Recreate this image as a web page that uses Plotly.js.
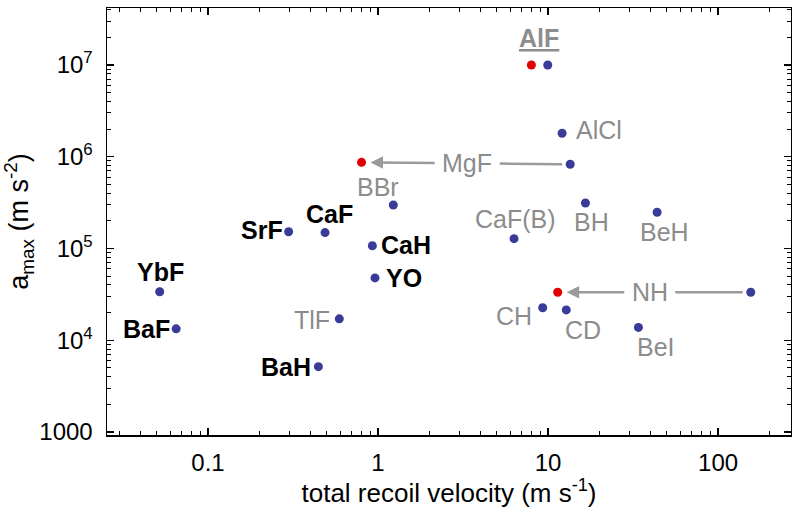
<!DOCTYPE html>
<html>
<head>
<meta charset="utf-8">
<script src="https://cdn.plot.ly/plotly-3.0.1.min.js"></script>
<style>html,body{margin:0;padding:0;background:#fff;}#chart{width:792px;height:508px;}</style>
</head>
<body>
<div id="chart"></div>
<script>
// ---- data ----
var molecules = ['YbF','BaF','BaH','TlF','YO','SrF','CaF','CaH','BBr','MgF','AlCl','AlF','CaF(B)','BH','BeH','NH','CH','CD','BeI'];
var recoilVelocity = [0.052,0.065,0.446,0.592,0.96,0.298,0.488,0.926,1.23,13.5,12.1,9.96,6.31,16.6,43.8,155.7,9.3,12.8,34.0];
var aMax = [33800,13300,5150,17100,47800,152000,149000,107000,298000,828000,1.8e6,1.0e7,128000,313000,248000,33300,22600,21400,13800];

var improvedMolecules = ['AlF','MgF','NH'];
var improvedVelocity = [7.98,0.80,11.4];
var improvedAMax = [1.0e7,8.69e5,3.33e4];

var xTickVals = [0.1,1,10,100];
var xTickText = ['0.1','1','10','100'];
var yTickVals = [1e3,1e4,1e5,1e6,1e7];
var yTickText = ['1000','10<sup>4</sup>','10<sup>5</sup>','10<sup>6</sup>','10<sup>7</sup>'];

// ---- label styling (pixel offsets from each point) ----
var labelStyle = {
  'YbF':   {dx:1,   dy:20,  k:'bold'},
  'BaF':   {dx:-30, dy:0,   k:'bold'},
  'BaH':   {dx:-32, dy:0,   k:'bold'},
  'TlF':   {dx:-27, dy:-1,  k:'gray'},
  'YO':    {dx:29,  dy:0,   k:'bold'},
  'SrF':   {dx:-27, dy:2,   k:'bold'},
  'CaF':   {dx:4,   dy:19,  k:'bold'},
  'CaH':   {dx:34,  dy:1,   k:'bold'},
  'BBr':   {dx:-15, dy:18,  k:'gray'},
  'AlCl':  {dx:37,  dy:3,   k:'gray'},
  'AlF':   {dx:-9,  dy:27,  k:'alf'},
  'CaF(B)':{dx:1,   dy:20,  k:'gray'},
  'BH':    {dx:6,   dy:-19, k:'gray'},
  'BeH':   {dx:7,   dy:-20, k:'gray'},
  'CH':    {dx:-29, dy:-8,  k:'gray'},
  'CD':    {dx:17,  dy:-20, k:'gray'},
  'BeI':   {dx:18,  dy:-20, k:'gray'}
};
// labels sitting between a pair of points, joined by an arrow/line
var pairStyle = {
  'MgF': {dx:-103, dy:1},
  'NH':  {dx:-101, dy:0}
};

var FONT = 'Arial, "Liberation Sans", Helvetica, sans-serif';
var GRAY = '#8c8c8c';
var LINEGRAY = '#9a9a9a';
var LABEL_SIZE = 25;

function minorVals(lo, hi) {
  var out = [];
  for (var e = lo; e <= hi; e++) {
    for (var m = 2; m <= 9; m++) out.push(m * Math.pow(10, e));
  }
  return out;
}

var annotations = [];
molecules.forEach(function(name, i) {
  var s = labelStyle[name];
  if (!s) return;
  var font = {family: FONT, size: LABEL_SIZE, color: GRAY};
  if (s.k === 'bold') { font.color = '#000'; font.weight = 'bold'; }
  if (s.k === 'alf') { font.weight = 'bold'; font.lineposition = 'under'; }
  annotations.push({
    x: Math.log10(recoilVelocity[i]), y: Math.log10(aMax[i]),
    xref: 'x', yref: 'y', text: name, showarrow: false,
    xshift: s.dx, yshift: s.dy, font: font,
    xanchor: 'center', yanchor: 'middle'
  });
});

var pairInfo = [];
Object.keys(pairStyle).forEach(function(name) {
  var s = pairStyle[name];
  var bi = molecules.indexOf(name);
  var ri = improvedMolecules.indexOf(name);
  var bx = Math.log10(recoilVelocity[bi]), by = Math.log10(aMax[bi]);
  var rx = Math.log10(improvedVelocity[ri]), ry = Math.log10(improvedAMax[ri]);
  // label + plain line to the original (blue) point
  annotations.push({
    x: bx, y: by, xref: 'x', yref: 'y', axref: 'pixel', ayref: 'pixel',
    ax: s.dx, ay: -s.dy, text: name, showarrow: true, arrowhead: 0,
    arrowwidth: 2.5, arrowcolor: LINEGRAY, standoff: 8, borderpad: 7,
    font: {family: FONT, size: LABEL_SIZE, color: GRAY}
  });
  // transparent copy of the label carrying the arrow to the improved (red) point
  pairInfo.push({idx: annotations.length, bx: bx, by: by, rx: rx, ry: ry, s: s});
  annotations.push({
    x: rx, y: ry, xref: 'x', yref: 'y', axref: 'pixel', ayref: 'pixel',
    ax: 60, ay: 0, text: name, showarrow: true, arrowhead: 2, arrowsize: 1,
    arrowwidth: 2.5, arrowcolor: LINEGRAY, standoff: 9, borderpad: 7,
    font: {family: FONT, size: LABEL_SIZE, color: 'rgba(0,0,0,0)'}
  });
});

var traces = [
  {
    x: recoilVelocity, y: aMax, mode: 'markers', type: 'scatter',
    marker: {color: '#3a3a98', size: 9}, hoverinfo: 'skip', cliponaxis: false
  },
  {
    x: improvedVelocity, y: improvedAMax, mode: 'markers', type: 'scatter',
    marker: {color: '#e00000', size: 9}, hoverinfo: 'skip', cliponaxis: false
  }
];

var axisCommon = {
  type: 'log', showgrid: false, zeroline: false,
  showline: true, linecolor: '#000', linewidth: 1.5, mirror: 'allticks',
  ticks: 'inside', ticklen: 7, tickwidth: 1.2, tickcolor: '#000',
  tickmode: 'array', tickfont: {family: FONT, size: 24, color: '#000'}
};

var layout = {
  width: 792, height: 508,
  margin: {l: 107, r: 1, t: 8, b: 73, pad: 0},
  paper_bgcolor: '#fff', plot_bgcolor: '#fff',
  showlegend: false,
  xaxis: Object.assign({}, axisCommon, {
    range: [-1.594, 2.429], tickvals: xTickVals, ticktext: xTickText,
    minor: {tickmode: 'array', tickvals: minorVals(-2, 2), ticks: 'inside', ticklen: 4, tickwidth: 1, tickcolor: '#000'},
    ticklabelstandoff: 6,
    title: {text: 'total recoil velocity (m s<sup>-1</sup>)', font: {family: FONT, size: 26, color: '#000'}, standoff: 6}
  }),
  yaxis: Object.assign({}, axisCommon, {
    range: [2.967, 7.621], tickvals: yTickVals, ticktext: yTickText,
    minor: {tickmode: 'array', tickvals: minorVals(3, 7), ticks: 'inside', ticklen: 4, tickwidth: 1, tickcolor: '#000'},
    ticklabelstandoff: 8,
    title: {text: 'a<sub>max</sub> (m s<sup>-2</sup>)', font: {family: FONT, size: 27, color: '#000'}, standoff: 4}
  }),
  annotations: annotations
};

Plotly.newPlot('chart', traces, layout, {staticPlot: true}).then(function(gd) {
  // Tail of the arrow to the red point starts at the visible label position.
  var xa = gd._fullLayout.xaxis, ya = gd._fullLayout.yaxis;
  var upd = {};
  pairInfo.forEach(function(p) {
    var labX = xa.l2p(p.bx) + p.s.dx, labY = ya.l2p(p.by) - p.s.dy;
    upd['annotations[' + p.idx + '].ax'] = labX - xa.l2p(p.rx);
    upd['annotations[' + p.idx + '].ay'] = labY - ya.l2p(p.ry);
  });
  return Plotly.relayout(gd, upd);
});
</script>
</body>
</html>
